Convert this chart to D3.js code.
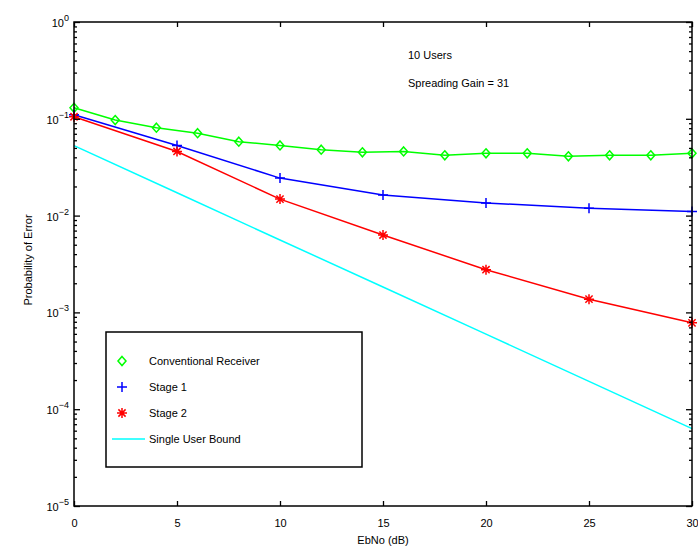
<!DOCTYPE html>
<html>
<head>
<meta charset="utf-8">
<script src="https://cdn.jsdelivr.net/npm/d3@7"></script>
<style>
  body { margin: 0; background: #fff; }
  svg { display: block; font-family: "Liberation Sans", Arial, sans-serif; }
</style>
</head>
<body>
<svg id="chart" width="698" height="548"></svg>
<script>
// values
var convX = [0, 2, 4, 6, 8, 10, 12, 14, 16, 18, 20, 22, 24, 26, 28, 30];
var convY = [0.13, 0.097, 0.081, 0.071, 0.058, 0.053, 0.048, 0.045, 0.046, 0.042, 0.044, 0.044, 0.041, 0.042, 0.042, 0.044];

var stageX = [0, 5, 10, 15, 20, 25, 30];
var stage1Y = [0.11, 0.053, 0.0244, 0.0163, 0.0135, 0.0119, 0.011];
var stage2Y = [0.105, 0.046, 0.0148, 0.0063, 0.00276, 0.00137, 0.00078];

var boundX = [0, 5, 10, 15, 20, 25, 30];
var boundY = [0.0528, 0.0172, 0.0056, 0.00183, 0.000596, 0.000194, 0.000063];

var xTicks = [0, 5, 10, 15, 20, 25, 30];
var yDecades = [-5, -4, -3, -2, -1, 0];

var svg = d3.select('#chart');

// plot area (note: "top" is a reserved window property, so use other names)
var plotL = 74, plotR = 692, plotT = 22, plotB = 506;

var x = d3.scaleLinear().domain([0, 30]).range([plotL, plotR]);
var y = d3.scaleLog().domain([1e-5, 1]).range([plotB, plotT]);

// minor ticks 2..9 within each decade
var minor = [];
yDecades.slice(0, -1).forEach(function (e) {
  for (var m = 2; m <= 9; m++) minor.push(m * Math.pow(10, e));
});

// draw the curves first, the box goes on top
function drawLine(xs, ys, color) {
  var line = d3.line()
    .x(function (d) { return x(d[0]); })
    .y(function (d) { return y(d[1]); });
  svg.append('path')
    .datum(d3.zip(xs, ys))
    .attr('d', line)
    .attr('fill', 'none')
    .attr('stroke', color)
    .attr('stroke-width', 1.5);
}

drawLine(boundX, boundY, '#00ffff');
drawLine(convX, convY, '#00ff00');
drawLine(stageX, stage1Y, '#0000ff');
drawLine(stageX, stage2Y, '#ff0000');

function diamond(g, color) {
  g.append('path')
    .attr('d', 'M0,-4.5L4,0L0,4.5L-4,0Z')
    .attr('fill', 'none')
    .attr('stroke', color)
    .attr('stroke-width', 1.5);
}
function plus(g, color) {
  g.append('path')
    .attr('d', 'M-5,0H5M0,-5V5')
    .attr('stroke', color)
    .attr('stroke-width', 1.5);
}
function star(g, color) {
  g.append('path')
    .attr('d', 'M-5,0H5M0,-5V5M-3.6,-3.6L3.6,3.6M-3.6,3.6L3.6,-3.6')
    .attr('stroke', color)
    .attr('stroke-width', 1.5);
}

function drawMarkers(xs, ys, fn, color) {
  d3.zip(xs, ys).forEach(function (d) {
    var g = svg.append('g')
      .attr('transform', 'translate(' + x(d[0]) + ',' + y(d[1]) + ')');
    fn(g, color);
  });
}

drawMarkers(convX, convY, diamond, '#00ff00');
drawMarkers(stageX, stage1Y, plus, '#0000ff');
drawMarkers(stageX, stage2Y, star, '#ff0000');

// axes with inward ticks on all four sides
var bottomAxis = d3.axisBottom(x).tickValues(xTicks).tickSize(-5).tickPadding(13)
  .tickFormat(d3.format('d'));
var topAxis = d3.axisTop(x).tickValues(xTicks).tickSize(-5).tickFormat('');

var gb = svg.append('g').attr('transform', 'translate(0,' + plotB + ')').call(bottomAxis);
var gt = svg.append('g').attr('transform', 'translate(0,' + plotT + ')').call(topAxis);

var majorVals = yDecades.map(function (e) { return Math.pow(10, e); });
var gl = svg.append('g').attr('transform', 'translate(' + plotL + ',0)')
  .call(d3.axisLeft(y).tickValues(majorVals).tickSize(-6).tickFormat(''));
var glm = svg.append('g').attr('transform', 'translate(' + plotL + ',0)')
  .call(d3.axisLeft(y).tickValues(minor).tickSize(-3).tickFormat(''));
var gr = svg.append('g').attr('transform', 'translate(' + plotR + ',0)')
  .call(d3.axisRight(y).tickValues(majorVals).tickSize(-6).tickFormat(''));
var grm = svg.append('g').attr('transform', 'translate(' + plotR + ',0)')
  .call(d3.axisRight(y).tickValues(minor).tickSize(-3).tickFormat(''));

[gb, gt, gl, glm, gr, grm].forEach(function (g) {
  g.selectAll('.domain').remove();
  g.selectAll('line').attr('stroke', '#000').attr('stroke-width', 1.3);
  g.selectAll('text').attr('fill', '#000').style('font-size', '11px')
    .style('font-family', '"Liberation Sans", Arial, sans-serif');
});

// plot box
svg.append('rect')
  .attr('x', plotL).attr('y', plotT)
  .attr('width', plotR - plotL).attr('height', plotB - plotT)
  .attr('fill', 'none').attr('stroke', '#000').attr('stroke-width', 1.5);

// y tick labels as 10 with superscript exponent
yDecades.forEach(function (e) {
  var t = svg.append('text')
    .attr('x', plotL - 5)
    .attr('y', y(Math.pow(10, e)) + 5)
    .attr('text-anchor', 'end')
    .style('font-size', '11px');
  t.append('tspan').text('10');
  t.append('tspan')
    .attr('dy', -6)
    .style('font-size', '9px')
    .text(e === 0 ? '0' : '\u2212' + Math.abs(e));
});

// axis labels
svg.append('text')
  .attr('x', (plotL + plotR) / 2).attr('y', 544)
  .attr('text-anchor', 'middle')
  .style('font-size', '11px')
  .text('EbNo (dB)');

svg.append('text')
  .attr('transform', 'translate(32,' + ((plotT + plotB) / 2 - 4) + ') rotate(-90)')
  .attr('text-anchor', 'middle')
  .style('font-size', '11px')
  .text('Probability of Error');

// annotations
svg.append('text').attr('x', 408).attr('y', 59).style('font-size', '11px').text('10 Users');
svg.append('text').attr('x', 408).attr('y', 87).style('font-size', '11px').text('Spreading Gain = 31');

// legend
var legend = svg.append('g');
legend.append('rect')
  .attr('x', 106).attr('y', 332)
  .attr('width', 256).attr('height', 135)
  .attr('fill', '#fff').attr('stroke', '#000').attr('stroke-width', 1.5);

var legendItems = [
  { label: 'Conventional Receiver', color: '#00ff00', marker: diamond },
  { label: 'Stage 1', color: '#0000ff', marker: plus },
  { label: 'Stage 2', color: '#ff0000', marker: star },
  { label: 'Single User Bound', color: '#00ffff', marker: null }
];

legendItems.forEach(function (item, i) {
  var cy = 361 + i * 26;
  if (item.marker) {
    var g = legend.append('g').attr('transform', 'translate(122,' + cy + ')');
    item.marker(g, item.color);
  } else {
    legend.append('line')
      .attr('x1', 112).attr('x2', 145)
      .attr('y1', cy).attr('y2', cy)
      .attr('stroke', item.color).attr('stroke-width', 1.5);
  }
  legend.append('text')
    .attr('x', 149).attr('y', cy + 4)
    .style('font-size', '11px')
    .text(item.label);
});
</script>
</body>
</html>
